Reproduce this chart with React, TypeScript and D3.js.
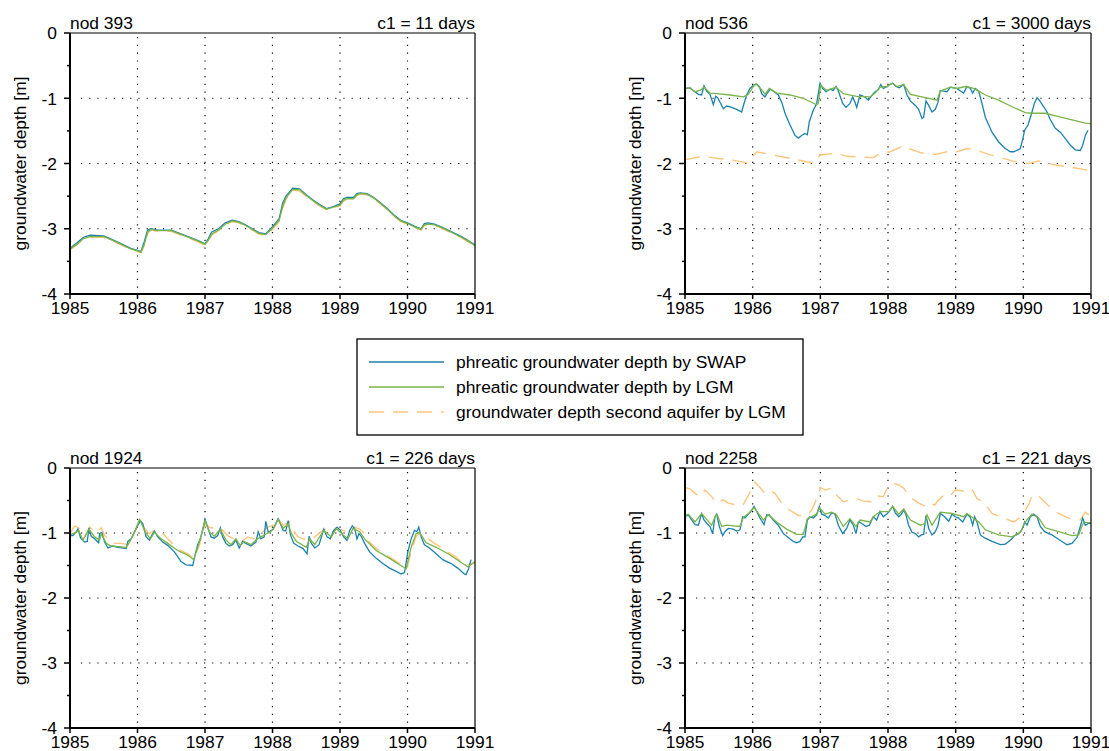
import * as d3 from "d3";

// axis ticks and labels
const years = [1985, 1986, 1987, 1988, 1989, 1990, 1991];
const depthTicks = [0, -1, -2, -3, -4];
const minorTicks = [-0.5, -1.5, -2.5, -3.5];
const gridYears = [1986, 1987, 1988, 1989, 1990];
const gridDepths = [-1, -2, -3];
const nodeLabels = ["nod 393", "nod 536", "nod 1924", "nod 2258"];
const c1Labels = ["c1 = 11 days", "c1 = 3000 days", "c1 = 226 days", "c1 = 221 days"];
const legendLabels = [
  "phreatic groundwater depth by SWAP",
  "phreatic groundwater depth by LGM",
  "groundwater depth second aquifer by LGM",
];

// [year, depth]
const swap393 = [[1985.0,-3.30],[1985.1,-3.22],[1985.2,-3.13],[1985.3,-3.10],[1985.5,-3.11],[1985.7,-3.20],[1985.9,-3.30],[1986.0,-3.33],[1986.05,-3.35],[1986.1,-3.2],[1986.15,-3.02],[1986.2,-3.0],[1986.3,-3.02],[1986.5,-3.02],[1986.7,-3.10],[1986.9,-3.18],[1987.0,-3.23],[1987.05,-3.15],[1987.1,-3.05],[1987.2,-3.0],[1987.3,-2.91],[1987.4,-2.87],[1987.5,-2.89],[1987.6,-2.94],[1987.7,-3.0],[1987.8,-3.06],[1987.9,-3.08],[1988.0,-2.97],[1988.1,-2.84],[1988.15,-2.61],[1988.2,-2.50],[1988.25,-2.44],[1988.3,-2.38],[1988.4,-2.39],[1988.5,-2.48],[1988.6,-2.56],[1988.7,-2.63],[1988.8,-2.69],[1988.9,-2.66],[1989.0,-2.62],[1989.05,-2.54],[1989.1,-2.52],[1989.2,-2.52],[1989.25,-2.46],[1989.3,-2.45],[1989.4,-2.46],[1989.5,-2.52],[1989.6,-2.60],[1989.7,-2.69],[1989.8,-2.79],[1989.9,-2.87],[1990.0,-2.91],[1990.1,-2.96],[1990.2,-3.0],[1990.25,-2.92],[1990.3,-2.91],[1990.4,-2.93],[1990.5,-2.97],[1990.6,-3.02],[1990.7,-3.07],[1990.8,-3.12],[1990.9,-3.18],[1991.0,-3.25]];
const lgm393 = [[1985.0,-3.31],[1985.1,-3.24],[1985.2,-3.15],[1985.3,-3.12],[1985.5,-3.12],[1985.7,-3.21],[1985.9,-3.31],[1986.0,-3.34],[1986.05,-3.36],[1986.1,-3.24],[1986.15,-3.05],[1986.2,-3.01],[1986.3,-3.03],[1986.5,-3.03],[1986.7,-3.11],[1986.9,-3.19],[1987.0,-3.24],[1987.05,-3.18],[1987.1,-3.08],[1987.2,-3.02],[1987.3,-2.93],[1987.4,-2.88],[1987.5,-2.90],[1987.6,-2.95],[1987.7,-3.01],[1987.8,-3.07],[1987.9,-3.09],[1988.0,-2.99],[1988.1,-2.87],[1988.15,-2.66],[1988.2,-2.53],[1988.25,-2.46],[1988.3,-2.40],[1988.4,-2.40],[1988.5,-2.49],[1988.6,-2.57],[1988.7,-2.64],[1988.8,-2.70],[1988.9,-2.67],[1989.0,-2.64],[1989.05,-2.56],[1989.1,-2.54],[1989.2,-2.54],[1989.25,-2.48],[1989.3,-2.46],[1989.4,-2.47],[1989.5,-2.53],[1989.6,-2.61],[1989.7,-2.70],[1989.8,-2.80],[1989.9,-2.88],[1990.0,-2.92],[1990.1,-2.97],[1990.2,-3.01],[1990.25,-2.94],[1990.3,-2.93],[1990.4,-2.94],[1990.5,-2.98],[1990.6,-3.03],[1990.7,-3.08],[1990.8,-3.13],[1990.9,-3.19],[1991.0,-3.26]];
const aquifer393 = [[1985.0,-3.32],[1985.1,-3.25],[1985.2,-3.16],[1985.3,-3.13],[1985.5,-3.13],[1985.7,-3.22],[1985.9,-3.32],[1986.0,-3.35],[1986.05,-3.37],[1986.1,-3.26],[1986.15,-3.07],[1986.2,-3.02],[1986.3,-3.04],[1986.5,-3.04],[1986.7,-3.12],[1986.9,-3.20],[1987.0,-3.25],[1987.05,-3.19],[1987.1,-3.10],[1987.2,-3.03],[1987.3,-2.94],[1987.4,-2.89],[1987.5,-2.91],[1987.6,-2.96],[1987.7,-3.02],[1987.8,-3.08],[1987.9,-3.10],[1988.0,-3.01],[1988.1,-2.89],[1988.15,-2.69],[1988.2,-2.55],[1988.25,-2.47],[1988.3,-2.41],[1988.4,-2.42],[1988.5,-2.50],[1988.6,-2.58],[1988.7,-2.65],[1988.8,-2.71],[1988.9,-2.68],[1989.0,-2.65],[1989.05,-2.58],[1989.1,-2.55],[1989.2,-2.55],[1989.25,-2.49],[1989.3,-2.47],[1989.4,-2.48],[1989.5,-2.54],[1989.6,-2.62],[1989.7,-2.71],[1989.8,-2.81],[1989.9,-2.89],[1990.0,-2.93],[1990.1,-2.98],[1990.2,-3.02],[1990.25,-2.95],[1990.3,-2.94],[1990.4,-2.95],[1990.5,-2.99],[1990.6,-3.04],[1990.7,-3.09],[1990.8,-3.14],[1990.9,-3.20],[1991.0,-3.27]];

const swap536 = [[1985.0,-0.85],[1985.074,-0.84],[1985.123,-0.88],[1985.197,-0.94],[1985.246,-0.95],[1985.281,-0.81],[1985.32,-0.89],[1985.369,-0.94],[1985.419,-1.10],[1985.453,-0.97],[1985.483,-0.99],[1985.527,-1.08],[1985.567,-1.16],[1985.616,-1.12],[1985.69,-1.14],[1985.764,-1.17],[1985.837,-1.21],[1985.872,-1.08],[1985.911,-0.95],[1985.961,-0.85],[1986.01,-0.80],[1986.059,-0.78],[1986.099,-0.82],[1986.133,-0.93],[1986.182,-0.98],[1986.217,-0.92],[1986.256,-0.86],[1986.305,-0.89],[1986.379,-0.95],[1986.429,-1.06],[1986.478,-1.23],[1986.552,-1.41],[1986.626,-1.57],[1986.675,-1.61],[1986.724,-1.57],[1986.773,-1.54],[1986.808,-1.56],[1986.837,-1.36],[1986.897,-1.18],[1986.946,-1.08],[1986.995,-0.77],[1987.034,-0.85],[1987.084,-0.90],[1987.143,-0.86],[1987.192,-0.88],[1987.232,-0.82],[1987.266,-0.89],[1987.33,-1.08],[1987.379,-1.14],[1987.438,-1.08],[1987.478,-0.98],[1987.512,-1.06],[1987.537,-1.14],[1987.586,-0.95],[1987.66,-0.98],[1987.709,-1.03],[1987.773,-0.94],[1987.808,-0.90],[1987.857,-0.87],[1987.892,-0.79],[1987.931,-0.85],[1987.99,-0.82],[1988.01,-0.80],[1988.069,-0.77],[1988.118,-0.82],[1988.167,-0.84],[1988.232,-0.79],[1988.281,-0.95],[1988.33,-1.04],[1988.404,-1.11],[1988.453,-1.17],[1988.502,-1.31],[1988.527,-1.29],[1988.562,-1.04],[1988.601,-1.11],[1988.65,-1.21],[1988.7,-1.17],[1988.739,-1.06],[1988.773,-0.88],[1988.823,-0.89],[1988.872,-0.90],[1988.921,-0.83],[1988.97,-0.84],[1989.02,-0.85],[1989.069,-0.89],[1989.118,-0.92],[1989.167,-0.82],[1989.217,-0.85],[1989.251,-0.92],[1989.291,-0.85],[1989.34,-0.89],[1989.389,-1.08],[1989.438,-1.29],[1989.537,-1.52],[1989.635,-1.67],[1989.734,-1.77],[1989.808,-1.82],[1989.857,-1.82],[1989.921,-1.79],[1989.956,-1.77],[1989.99,-1.63],[1990.02,-1.49],[1990.069,-1.41],[1990.128,-1.21],[1990.163,-1.08],[1990.202,-0.99],[1990.236,-1.03],[1990.3,-1.13],[1990.35,-1.21],[1990.399,-1.33],[1990.473,-1.46],[1990.547,-1.52],[1990.621,-1.62],[1990.695,-1.72],[1990.768,-1.79],[1990.842,-1.80],[1990.877,-1.72],[1990.916,-1.57],[1990.956,-1.49]];
const lgm536 = [[1985.0,-0.85],[1985.074,-0.84],[1985.148,-0.90],[1985.222,-0.88],[1985.281,-0.83],[1985.369,-0.92],[1985.468,-0.93],[1985.665,-0.95],[1985.862,-0.98],[1985.936,-0.94],[1986.01,-0.82],[1986.049,-0.78],[1986.133,-0.87],[1986.182,-0.94],[1986.246,-0.85],[1986.355,-0.92],[1986.552,-0.95],[1986.749,-1.0],[1986.946,-1.10],[1986.97,-1.08],[1987.005,-0.80],[1987.094,-0.88],[1987.232,-0.83],[1987.34,-0.93],[1987.537,-0.97],[1987.734,-0.98],[1987.808,-0.92],[1987.882,-0.83],[1987.99,-0.82],[1988.01,-0.80],[1988.069,-0.77],[1988.133,-0.82],[1988.232,-0.79],[1988.33,-0.94],[1988.552,-0.99],[1988.724,-1.03],[1988.773,-0.89],[1988.921,-0.83],[1989.02,-0.85],[1989.143,-0.82],[1989.266,-0.85],[1989.34,-0.89],[1989.438,-0.95],[1989.635,-1.03],[1989.833,-1.13],[1990.03,-1.22],[1990.128,-1.23],[1990.325,-1.23],[1990.522,-1.28],[1990.719,-1.33],[1990.916,-1.38],[1991.0,-1.39]];
const aquifer536 = [[1985.0,-1.94],[1985.271,-1.89],[1985.468,-1.92],[1985.665,-1.94],[1985.911,-1.99],[1985.961,-1.94],[1986.059,-1.82],[1986.256,-1.86],[1986.453,-1.90],[1986.65,-1.94],[1986.921,-2.0],[1986.995,-1.87],[1987.241,-1.84],[1987.389,-1.89],[1987.586,-1.90],[1987.783,-1.91],[1987.882,-1.85],[1988.03,-1.82],[1988.232,-1.73],[1988.305,-1.77],[1988.502,-1.84],[1988.7,-1.86],[1988.872,-1.82],[1988.97,-1.81],[1989.02,-1.82],[1989.167,-1.77],[1989.291,-1.79],[1989.488,-1.86],[1989.635,-1.90],[1989.833,-1.96],[1989.98,-1.99],[1990.079,-2.0],[1990.227,-1.96],[1990.325,-1.99],[1990.522,-2.03],[1990.719,-2.06],[1991.0,-2.11]];

const swap1924 = [[1985.0,-1.04],[1985.044,-1.04],[1985.094,-0.98],[1985.118,-0.94],[1985.158,-1.08],[1985.217,-1.14],[1985.256,-1.13],[1985.281,-0.92],[1985.315,-1.05],[1985.365,-1.09],[1985.424,-1.15],[1985.438,-1.01],[1985.473,-0.99],[1985.512,-1.14],[1985.562,-1.23],[1985.635,-1.20],[1985.709,-1.22],[1985.833,-1.24],[1985.857,-1.13],[1985.906,-1.09],[1985.956,-0.98],[1986.005,-0.88],[1986.044,-0.81],[1986.079,-0.86],[1986.128,-1.06],[1986.177,-1.11],[1986.212,-1.03],[1986.251,-0.97],[1986.3,-1.06],[1986.374,-1.14],[1986.448,-1.19],[1986.547,-1.29],[1986.645,-1.44],[1986.719,-1.49],[1986.818,-1.50],[1986.852,-1.34],[1986.892,-1.18],[1986.931,-1.09],[1986.966,-0.96],[1987.0,-0.79],[1987.039,-0.91],[1987.089,-1.06],[1987.138,-1.08],[1987.187,-1.04],[1987.227,-0.92],[1987.261,-1.06],[1987.31,-1.16],[1987.36,-1.20],[1987.409,-1.18],[1987.458,-1.11],[1987.507,-1.23],[1987.557,-1.13],[1987.606,-1.16],[1987.68,-1.20],[1987.754,-1.14],[1987.788,-0.98],[1987.828,-1.09],[1987.877,-1.06],[1987.901,-0.82],[1987.936,-0.99],[1987.985,-0.96],[1988.01,-0.94],[1988.059,-0.83],[1988.084,-0.78],[1988.118,-0.86],[1988.158,-0.96],[1988.197,-0.97],[1988.232,-0.81],[1988.266,-1.03],[1988.315,-1.16],[1988.379,-1.20],[1988.453,-1.24],[1988.512,-1.32],[1988.542,-1.05],[1988.576,-1.16],[1988.626,-1.23],[1988.69,-1.18],[1988.759,-0.94],[1988.808,-1.06],[1988.857,-1.09],[1988.906,-0.96],[1988.956,-0.91],[1989.005,-0.96],[1989.054,-1.06],[1989.103,-1.11],[1989.143,-0.96],[1989.182,-0.89],[1989.217,-0.93],[1989.251,-1.09],[1989.281,-1.01],[1989.315,-1.05],[1989.365,-1.16],[1989.438,-1.29],[1989.537,-1.39],[1989.635,-1.47],[1989.734,-1.54],[1989.833,-1.59],[1989.906,-1.63],[1989.956,-1.61],[1990.005,-1.29],[1990.054,-1.09],[1990.103,-0.96],[1990.138,-0.98],[1990.167,-0.91],[1990.202,-1.06],[1990.251,-1.18],[1990.325,-1.23],[1990.424,-1.32],[1990.522,-1.41],[1990.645,-1.47],[1990.744,-1.54],[1990.842,-1.63],[1990.867,-1.64],[1990.906,-1.55],[1990.941,-1.41]];
const lgm1924 = [[1985.0,-1.03],[1985.094,-0.99],[1985.128,-0.96],[1985.192,-1.11],[1985.281,-0.94],[1985.365,-1.06],[1985.438,-1.11],[1985.463,-1.01],[1985.537,-1.16],[1985.611,-1.20],[1985.833,-1.22],[1985.882,-1.14],[1985.956,-0.99],[1986.03,-0.79],[1986.128,-1.01],[1986.192,-1.09],[1986.251,-0.99],[1986.35,-1.09],[1986.448,-1.16],[1986.596,-1.27],[1986.744,-1.34],[1986.833,-1.41],[1986.916,-1.14],[1987.0,-0.81],[1987.064,-0.98],[1987.138,-1.05],[1987.227,-0.94],[1987.31,-1.11],[1987.384,-1.18],[1987.458,-1.09],[1987.522,-1.19],[1987.581,-1.13],[1987.68,-1.18],[1987.778,-1.09],[1987.877,-1.03],[1987.985,-0.97],[1988.01,-0.94],[1988.084,-0.79],[1988.158,-0.93],[1988.232,-0.86],[1988.281,-1.01],[1988.355,-1.13],[1988.502,-1.22],[1988.552,-1.09],[1988.626,-1.18],[1988.759,-0.96],[1988.872,-1.06],[1988.946,-0.93],[1989.054,-1.04],[1989.118,-1.09],[1989.192,-0.93],[1989.291,-0.98],[1989.365,-1.09],[1989.537,-1.27],[1989.734,-1.39],[1989.931,-1.52],[1989.98,-1.55],[1990.054,-1.22],[1990.128,-1.01],[1990.177,-0.99],[1990.276,-1.15],[1990.424,-1.22],[1990.621,-1.33],[1990.818,-1.47],[1990.892,-1.52],[1990.966,-1.47],[1991.0,-1.45]];
const aquifer1924 = [[1985.0,-1.01],[1985.069,-0.89],[1985.143,-0.93],[1985.217,-1.06],[1985.291,-0.91],[1985.389,-1.0],[1985.463,-0.92],[1985.512,-1.04],[1985.66,-1.16],[1985.759,-1.16],[1985.857,-1.18],[1985.931,-1.06],[1986.03,-0.81],[1986.103,-0.93],[1986.177,-1.01],[1986.251,-0.96],[1986.35,-0.98],[1986.448,-1.09],[1986.596,-1.25],[1986.744,-1.32],[1986.842,-1.39],[1986.916,-1.19],[1987.0,-0.86],[1987.064,-0.91],[1987.138,-0.93],[1987.236,-0.93],[1987.335,-1.04],[1987.433,-1.09],[1987.532,-1.14],[1987.631,-1.06],[1987.729,-1.09],[1987.828,-1.01],[1987.926,-0.91],[1987.985,-0.89],[1988.01,-0.88],[1988.084,-0.78],[1988.158,-0.88],[1988.256,-0.83],[1988.305,-0.96],[1988.379,-1.06],[1988.453,-1.09],[1988.552,-1.11],[1988.626,-1.06],[1988.773,-0.94],[1988.872,-1.01],[1988.946,-0.93],[1989.044,-0.96],[1989.143,-1.01],[1989.217,-0.91],[1989.291,-0.94],[1989.365,-1.01],[1989.438,-1.14],[1989.537,-1.24],[1989.734,-1.37],[1989.931,-1.50],[1989.99,-1.55],[1990.054,-1.29],[1990.128,-1.05],[1990.177,-1.01],[1990.276,-1.06],[1990.374,-1.14],[1990.522,-1.24],[1990.719,-1.37],[1990.867,-1.50],[1991.0,-1.45]];

const swap2258 = [[1985.0,-0.75],[1985.049,-0.72],[1985.099,-0.80],[1985.148,-0.87],[1985.197,-0.88],[1985.246,-0.70],[1985.281,-0.80],[1985.32,-0.85],[1985.369,-0.90],[1985.409,-1.01],[1985.443,-0.75],[1985.468,-0.71],[1985.507,-0.90],[1985.557,-1.04],[1985.591,-0.98],[1985.64,-0.93],[1985.714,-0.94],[1985.764,-0.97],[1985.813,-0.95],[1985.852,-0.75],[1985.887,-0.77],[1985.936,-0.71],[1985.985,-0.65],[1986.02,-0.59],[1986.059,-0.67],[1986.108,-0.77],[1986.167,-0.87],[1986.207,-0.72],[1986.246,-0.72],[1986.305,-0.80],[1986.379,-0.88],[1986.453,-1.01],[1986.527,-1.07],[1986.601,-1.13],[1986.65,-1.15],[1986.7,-1.13],[1986.739,-1.06],[1986.773,-1.06],[1986.808,-0.80],[1986.847,-0.75],[1986.897,-0.77],[1986.946,-0.72],[1986.985,-0.59],[1987.02,-0.71],[1987.069,-0.73],[1987.118,-0.77],[1987.167,-0.69],[1987.217,-0.71],[1987.266,-0.88],[1987.33,-1.01],[1987.389,-0.93],[1987.438,-0.80],[1987.488,-0.88],[1987.527,-1.01],[1987.562,-0.83],[1987.611,-0.85],[1987.675,-0.90],[1987.724,-0.88],[1987.783,-0.75],[1987.833,-0.80],[1987.882,-0.67],[1987.931,-0.75],[1987.99,-0.70],[1988.01,-0.68],[1988.069,-0.59],[1988.108,-0.69],[1988.158,-0.75],[1988.197,-0.71],[1988.232,-0.65],[1988.266,-0.72],[1988.305,-0.88],[1988.355,-0.99],[1988.404,-1.01],[1988.453,-1.06],[1988.493,-1.03],[1988.527,-1.02],[1988.562,-0.73],[1988.601,-0.93],[1988.65,-1.03],[1988.7,-0.98],[1988.739,-0.88],[1988.773,-0.70],[1988.837,-0.75],[1988.897,-0.82],[1988.946,-0.71],[1988.995,-0.75],[1989.044,-0.77],[1989.103,-0.83],[1989.167,-0.71],[1989.217,-0.76],[1989.251,-0.88],[1989.281,-0.75],[1989.315,-0.83],[1989.365,-1.03],[1989.438,-1.08],[1989.537,-1.13],[1989.66,-1.18],[1989.734,-1.17],[1989.808,-1.11],[1989.872,-1.04],[1989.931,-1.01],[1989.98,-0.95],[1990.02,-0.83],[1990.054,-0.88],[1990.103,-0.75],[1990.153,-0.71],[1990.202,-0.75],[1990.251,-0.90],[1990.315,-0.98],[1990.374,-1.01],[1990.424,-1.03],[1990.498,-1.08],[1990.571,-1.13],[1990.645,-1.18],[1990.719,-1.16],[1990.793,-1.07],[1990.828,-0.95],[1990.877,-0.77],[1990.916,-0.88],[1990.966,-0.85],[1991.0,-0.85]];
const lgm2258 = [[1985.0,-0.73],[1985.049,-0.71],[1985.148,-0.83],[1985.246,-0.70],[1985.32,-0.79],[1985.394,-0.88],[1985.443,-0.75],[1985.478,-0.72],[1985.542,-0.90],[1985.616,-0.88],[1985.813,-0.90],[1985.862,-0.76],[1985.961,-0.68],[1986.02,-0.61],[1986.158,-0.80],[1986.232,-0.72],[1986.355,-0.83],[1986.502,-0.94],[1986.65,-1.02],[1986.749,-1.02],[1986.808,-0.78],[1986.946,-0.71],[1986.985,-0.61],[1987.069,-0.71],[1987.167,-0.68],[1987.232,-0.71],[1987.34,-0.90],[1987.438,-0.78],[1987.527,-0.90],[1987.586,-0.80],[1987.734,-0.83],[1987.783,-0.75],[1987.882,-0.67],[1987.99,-0.67],[1988.01,-0.67],[1988.069,-0.59],[1988.158,-0.71],[1988.232,-0.63],[1988.33,-0.80],[1988.478,-0.88],[1988.552,-0.85],[1988.576,-0.72],[1988.65,-0.88],[1988.773,-0.68],[1988.946,-0.70],[1989.118,-0.75],[1989.167,-0.70],[1989.34,-0.83],[1989.438,-0.95],[1989.635,-1.03],[1989.833,-1.06],[1989.956,-0.99],[1990.03,-0.83],[1990.128,-0.71],[1990.227,-0.77],[1990.325,-0.92],[1990.522,-0.98],[1990.719,-1.04],[1990.818,-1.03],[1990.892,-0.83],[1990.941,-0.84],[1991.0,-0.84]];
const aquifer2258 = [[1985.0,-0.30],[1985.074,-0.32],[1985.148,-0.39],[1985.222,-0.44],[1985.296,-0.34],[1985.394,-0.44],[1985.468,-0.54],[1985.567,-0.49],[1985.64,-0.54],[1985.764,-0.57],[1985.862,-0.56],[1985.936,-0.42],[1985.985,-0.32],[1986.034,-0.22],[1986.099,-0.29],[1986.182,-0.39],[1986.266,-0.35],[1986.33,-0.39],[1986.429,-0.54],[1986.552,-0.65],[1986.675,-0.73],[1986.798,-0.73],[1986.872,-0.65],[1986.946,-0.47],[1987.005,-0.30],[1987.069,-0.34],[1987.167,-0.31],[1987.241,-0.42],[1987.34,-0.52],[1987.438,-0.49],[1987.537,-0.47],[1987.635,-0.51],[1987.759,-0.52],[1987.833,-0.43],[1987.931,-0.44],[1987.99,-0.31],[1988.034,-0.30],[1988.084,-0.24],[1988.158,-0.26],[1988.232,-0.31],[1988.281,-0.39],[1988.355,-0.47],[1988.453,-0.54],[1988.527,-0.58],[1988.576,-0.59],[1988.626,-0.54],[1988.69,-0.57],[1988.749,-0.49],[1988.837,-0.41],[1988.921,-0.43],[1988.995,-0.34],[1989.094,-0.35],[1989.167,-0.39],[1989.251,-0.34],[1989.315,-0.47],[1989.414,-0.52],[1989.537,-0.70],[1989.66,-0.75],[1989.783,-0.80],[1989.857,-0.83],[1989.931,-0.78],[1989.98,-0.72],[1990.03,-0.65],[1990.089,-0.54],[1990.128,-0.42],[1990.236,-0.44],[1990.374,-0.58],[1990.522,-0.70],[1990.645,-0.76],[1990.768,-0.80],[1990.842,-0.80],[1990.916,-0.68],[1991.0,-0.75]];

const swapSeries = [swap393, swap536, swap1924, swap2258];
const lgmSeries = [lgm393, lgm536, lgm1924, lgm2258];
const aquiferSeries = [aquifer393, aquifer536, aquifer1924, aquifer2258];

const FONT = "Arial, 'Liberation Sans', sans-serif";
const FS = 17.4;
const BLUE = "#1b82ae";
const GREEN = "#7ab547";
const ORANGE = "#ffc57c";

const Panel = ({ idx, left, top, width, height }) => {
  const x = d3.scaleLinear().domain([1985, 1991]).range([left, left + width]);
  const y = d3.scaleLinear().domain([0, -4]).range([top, top + height]);
  const line = d3.line().x((d) => x(d[0])).y((d) => y(d[1]));

  return (
    <g>
      {/* dotted grid */}
      {gridYears.map((yr) => (
        <line key={"gx" + yr} x1={x(yr)} x2={x(yr)} y1={top + 4} y2={top + height}
          stroke="#000" strokeWidth={1.2} strokeDasharray="1.2,6.6" />
      ))}
      {gridDepths.map((d) => (
        <line key={"gy" + d} x1={left + 11} x2={left + width} y1={y(d)} y2={y(d)}
          stroke="#000" strokeWidth={1.2} strokeDasharray="1.2,7" />
      ))}

      <path d={line(aquiferSeries[idx])} fill="none" stroke={ORANGE} strokeWidth={1.4} strokeDasharray="15,9" />
      <path d={line(swapSeries[idx])} fill="none" stroke={BLUE} strokeWidth={1.3} />
      <path d={line(lgmSeries[idx])} fill="none" stroke={GREEN} strokeWidth={1.3} />

      {/* frame */}
      <line x1={left} x2={left + width} y1={top} y2={top} stroke="#000" strokeWidth={1.2} />
      <line x1={left + width} x2={left + width} y1={top} y2={top + height} stroke="#000" strokeWidth={1.2} />
      <line x1={left} x2={left} y1={top} y2={top + height + 1} stroke="#000" strokeWidth={2} />
      <line x1={left - 1} x2={left + width} y1={top + height} y2={top + height} stroke="#000" strokeWidth={2} />

      {/* y axis */}
      {depthTicks.map((d) => (
        <g key={"yt" + d}>
          <line x1={left - 6} x2={left} y1={y(d)} y2={y(d)} stroke="#000" strokeWidth={1.5} />
          <text x={left - 13} y={y(d)} dy="0.36em" textAnchor="end" fontFamily={FONT} fontSize={FS}>
            {d}
          </text>
        </g>
      ))}
      {minorTicks.map((d) => (
        <line key={"ym" + d} x1={left - 3} x2={left + 1} y1={y(d)} y2={y(d)} stroke="#000" strokeWidth={1.5} />
      ))}

      {/* x axis */}
      {years.map((yr) => (
        <g key={"xt" + yr}>
          <line x1={x(yr)} x2={x(yr)} y1={top + height} y2={top + height + 5} stroke="#000" strokeWidth={1.5} />
          <text x={x(yr)} y={top + height + 20} textAnchor="middle" fontFamily={FONT} fontSize={FS}>
            {yr}
          </text>
        </g>
      ))}

      <text transform={`translate(${left - 44},${top + height / 2}) rotate(-90)`} textAnchor="middle"
        fontFamily={FONT} fontSize={FS}>
        groundwater depth [m]
      </text>

      <text x={left} y={top - 4} fontFamily={FONT} fontSize={FS}>{nodeLabels[idx]}</text>
      <text x={left + width} y={top - 4} textAnchor="end" fontFamily={FONT} fontSize={FS}>{c1Labels[idx]}</text>
    </g>
  );
};

const App = () => {
  const legendColors = [BLUE, GREEN, ORANGE];
  const legendDash = [null, null, "15,9"];
  return (
    <svg width={1109} height={751} style={{ position: "absolute", left: 0, top: 0, background: "#fff" }}>
      <rect x={0} y={0} width={1109} height={751} fill="#fff" />
      <Panel idx={0} left={70} top={33} width={405} height={261} />
      <Panel idx={1} left={685} top={33} width={406} height={261} />
      <Panel idx={2} left={70} top={468} width={405} height={260} />
      <Panel idx={3} left={685} top={468} width={406} height={260} />

      <g>
        <rect x={357} y={339} width={446} height={96} fill="#fff" stroke="#000" strokeWidth={1.3} />
        {legendLabels.map((lab, i) => (
          <g key={lab}>
            <line x1={369} x2={444} y1={362 + i * 25} y2={362 + i * 25} stroke={legendColors[i]}
              strokeWidth={1.3} strokeDasharray={legendDash[i] || undefined} />
            <text x={456} y={362 + i * 25} dy="0.36em" fontFamily={FONT} fontSize={FS}>{lab}</text>
          </g>
        ))}
      </g>
    </svg>
  );
};

export default App;
